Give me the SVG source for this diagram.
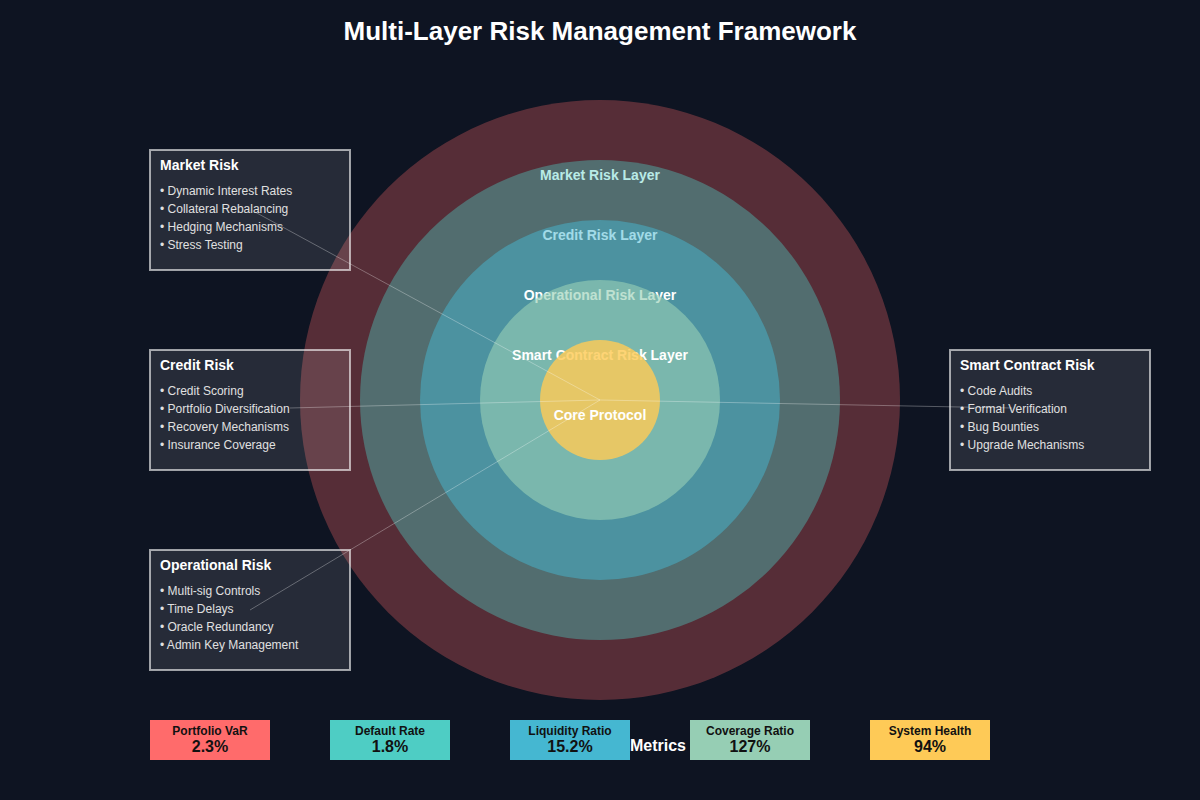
<svg xmlns="http://www.w3.org/2000/svg" width="1200" height="800" viewBox="0 0 1200 800">
<style>
.title{font-family:"Liberation Sans",Arial,sans-serif;font-size:26px;font-weight:bold;fill:#ffffff}
.layer{font-family:"Liberation Sans",Arial,sans-serif;font-size:14px;font-weight:bold;fill:#ffffff;text-anchor:middle}
.box{fill:#ffffff;fill-opacity:0.1;stroke:#ffffff;stroke-opacity:0.6;stroke-width:2}
.bt{font-family:"Liberation Sans",Arial,sans-serif;font-size:14px;font-weight:bold;fill:#ffffff}
.bi{font-family:"Liberation Sans",Arial,sans-serif;font-size:12px;fill:#e0e0e0}
.conn{stroke:#ffffff;stroke-opacity:0.3;stroke-width:1;fill:none}
.ml{font-family:"Liberation Sans",Arial,sans-serif;font-size:12px;font-weight:bold;fill:#111111;text-anchor:middle}
.mv{font-family:"Liberation Sans",Arial,sans-serif;font-size:16px;font-weight:bold;fill:#111111;text-anchor:middle}
</style>
<rect x="0" y="0" width="1200" height="800" fill="#0e1422"/>
<text class="title" x="600" y="40" text-anchor="middle">Multi-Layer Risk Management Framework</text>

<g id="layers">
<circle cx="600" cy="400" r="300" fill="#FF6B6B" fill-opacity="0.3"/>
<text class="layer" x="600" y="180">Market Risk Layer</text>
<circle cx="600" cy="400" r="240" fill="#4ECDC4" fill-opacity="0.4"/>
<text class="layer" x="600" y="240">Credit Risk Layer</text>
<circle cx="600" cy="400" r="180" fill="#45B7D1" fill-opacity="0.5"/>
<text class="layer" x="600" y="300">Operational Risk Layer</text>
<circle cx="600" cy="400" r="120" fill="#96CEB4" fill-opacity="0.62"/>
<text class="layer" x="600" y="360">Smart Contract Risk Layer</text>
<circle cx="600" cy="400" r="60" fill="#FECA57" fill-opacity="0.82"/>
</g>

<g id="market-risk">
<rect class="box" x="150" y="150" width="200" height="120"/>
<text class="bt" x="160" y="170">Market Risk</text>
<text class="bi" x="160" y="195">• Dynamic Interest Rates</text>
<text class="bi" x="160" y="213">• Collateral Rebalancing</text>
<text class="bi" x="160" y="231">• Hedging Mechanisms</text>
<text class="bi" x="160" y="249">• Stress Testing</text>
</g>
<g id="credit-risk">
<rect class="box" x="150" y="350" width="200" height="120"/>
<text class="bt" x="160" y="370">Credit Risk</text>
<text class="bi" x="160" y="395">• Credit Scoring</text>
<text class="bi" x="160" y="413">• Portfolio Diversification</text>
<text class="bi" x="160" y="431">• Recovery Mechanisms</text>
<text class="bi" x="160" y="449">• Insurance Coverage</text>
</g>
<g id="operational-risk">
<rect class="box" x="150" y="550" width="200" height="120"/>
<text class="bt" x="160" y="570">Operational Risk</text>
<text class="bi" x="160" y="595">• Multi-sig Controls</text>
<text class="bi" x="160" y="613">• Time Delays</text>
<text class="bi" x="160" y="631">• Oracle Redundancy</text>
<text class="bi" x="160" y="649">• Admin Key Management</text>
</g>
<g id="smart-contract-risk">
<rect class="box" x="950" y="350" width="200" height="120"/>
<text class="bt" x="960" y="370">Smart Contract Risk</text>
<text class="bi" x="960" y="395">• Code Audits</text>
<text class="bi" x="960" y="413">• Formal Verification</text>
<text class="bi" x="960" y="431">• Bug Bounties</text>
<text class="bi" x="960" y="449">• Upgrade Mechanisms</text>
</g>

<g id="connectors">
<line class="conn" x1="600" y1="400" x2="255" y2="212"/>
<line class="conn" x1="600" y1="400" x2="290" y2="408"/>
<line class="conn" x1="600" y1="400" x2="250" y2="610"/>
<line class="conn" x1="600" y1="400" x2="1012" y2="408"/>
</g>

<g id="core">
<text class="layer" x="600" y="420">Core Protocol</text>
</g>

<g id="metrics">
<rect x="150" y="720" width="120" height="40" fill="#FF6B6B"/>
<text class="ml" x="210" y="735">Portfolio VaR</text>
<text class="mv" x="210" y="752">2.3%</text>
<rect x="330" y="720" width="120" height="40" fill="#4ECDC4"/>
<text class="ml" x="390" y="735">Default Rate</text>
<text class="mv" x="390" y="752">1.8%</text>
<rect x="510" y="720" width="120" height="40" fill="#45B7D1"/>
<text class="ml" x="570" y="735">Liquidity Ratio</text>
<text class="mv" x="570" y="752">15.2%</text>
<rect x="690" y="720" width="120" height="40" fill="#96CEB4"/>
<text class="ml" x="750" y="735">Coverage Ratio</text>
<text class="mv" x="750" y="752">127%</text>
<rect x="870" y="720" width="120" height="40" fill="#FECA57"/>
<text class="ml" x="930" y="735">System Health</text>
<text class="mv" x="930" y="752">94%</text>
<text x="658" y="751" text-anchor="middle" font-family="Liberation Sans, Arial, sans-serif" font-size="16" font-weight="bold" fill="#ffffff">Metrics</text>
</g>
</svg>
